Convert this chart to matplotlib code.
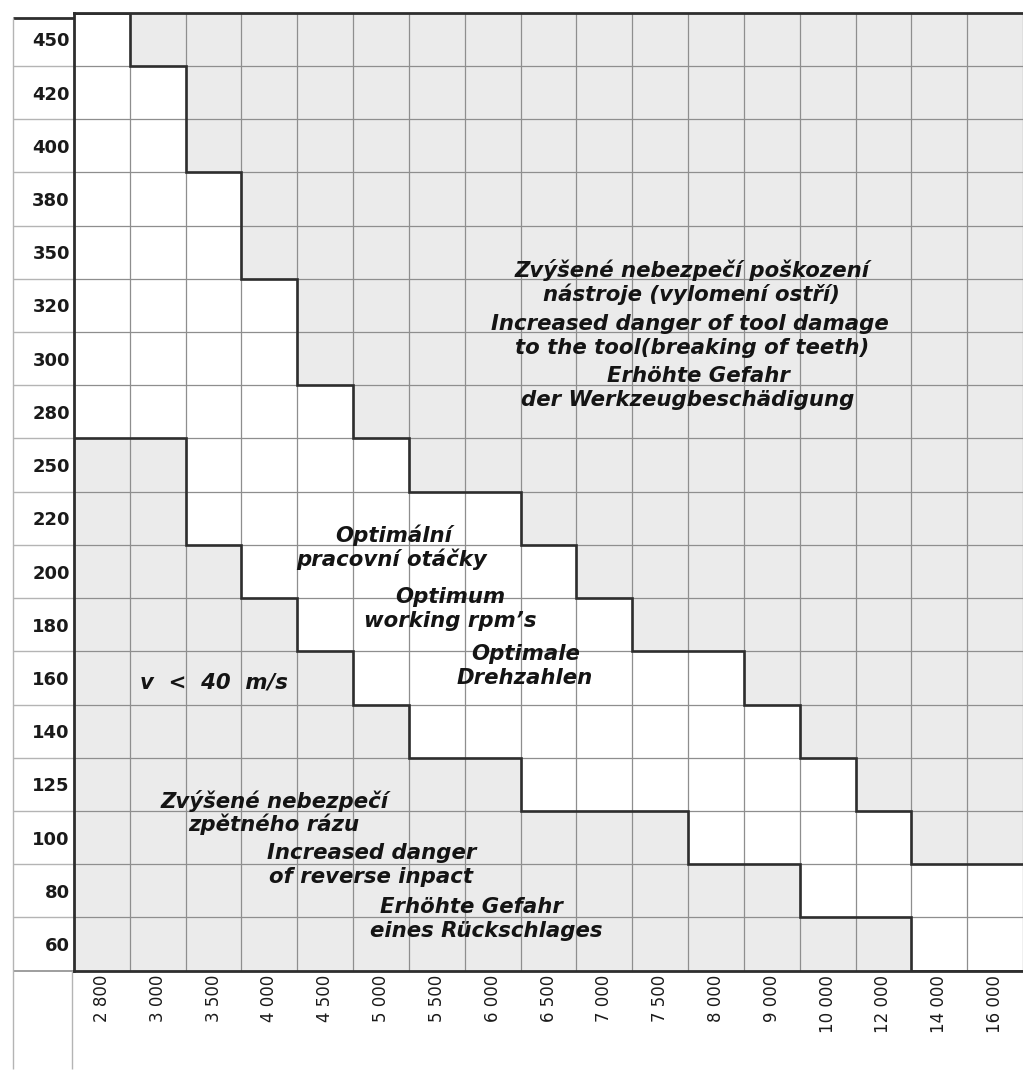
import numpy as np
import matplotlib
matplotlib.use("Agg")
import matplotlib.pyplot as plt

# ---------------- data ----------------
rpm_labels = ["2 800", "3 000", "3 500", "4 000", "4 500", "5 000", "5 500",
              "6 000", "6 500", "7 000", "7 500", "8 000", "9 000", "10 000",
              "12 000", "14 000", "16 000"]
# saw diameters, listed from bottom row to top row
diameter_labels = ["60", "80", "100", "125", "140", "160", "180", "200", "220",
                   "250", "280", "300", "320", "350", "380", "400", "420", "450"]
# lowest row index of the "tool damage" zone for each rpm column (18 = none)
tool_damage_from = [18, 17, 15, 13, 11, 10, 9, 9, 8, 7, 6, 6, 5, 4, 3, 2, 2]
# number of rows (from the bottom) in the "kickback" zone for each rpm column
kickback_rows = [10, 10, 8, 7, 6, 5, 4, 4, 3, 3, 3, 2, 2, 1, 1, 0, 0]

# ---------------- style ----------------
GREY = "#ebebeb"
DARK = "#2e2e2e"
GRID = "#8e8e8e"
LIGHT = "#b4b4b4"

W, H = 1023, 1070
GX0, GY0, GY1 = 74.0, 12.7, 970.7
COLW, ROWH = 56.3, 53.53

fig = plt.figure(figsize=(W / 100, H / 100), dpi=100)
fig.patch.set_facecolor("white")

ncol = len(rpm_labels)
nrow = len(diameter_labels)
xmax = (W - GX0) / COLW
ymax = (GY1 - GY0) / ROWH

ax = fig.add_axes([GX0 / W, 1 - GY1 / H, (W - GX0) / W, (GY1 - GY0) / H])
ax.set_xlim(0, xmax)
ax.set_ylim(0, ymax)
ax.set_facecolor("white")

cols = np.arange(ncol)
top_h = [nrow + 1 - s for s in tool_damage_from]
ax.bar(cols + 0.5, top_h, width=1.0, bottom=tool_damage_from, color=GREY,
       linewidth=0, align="center", zorder=0.5)
ax.bar(cols + 0.5, kickback_rows, width=1.0, bottom=0, color=GREY,
       linewidth=0, align="center", zorder=0.5)

# grid: boundaries on major ticks, labels on minor ticks
ax.set_xticks(np.arange(0, ncol + 1))
ax.set_xticklabels([])
ax.set_xticks(cols + 0.5, minor=True)
ax.set_xticklabels(rpm_labels, minor=True, rotation=90, va="top", ha="center",
                   fontsize=12, family="DejaVu Sans", color="#1a1a1a")
ax.set_yticks(np.arange(0, nrow + 1))
ax.set_yticklabels([])
ax.set_yticks(np.arange(nrow) + 0.5, minor=True)
ax.set_yticklabels(diameter_labels, minor=True, fontsize=13, fontweight="bold",
                   family="DejaVu Sans", color="#1a1a1a")
ax.tick_params(which="both", length=0)
ax.tick_params(axis="y", which="minor", pad=3)
ax.tick_params(axis="x", which="minor", pad=3)
ax.grid(which="major", color=GRID, linewidth=0.9)

# zone boundaries
edges = np.arange(ncol + 1)
ax.stairs(tool_damage_from, edges, baseline=None, color=DARK, linewidth=1.9, zorder=3)
ax.stairs(kickback_rows, edges, baseline=None, color=DARK, linewidth=1.9, zorder=3)

for side in ("top", "left", "bottom"):
    ax.spines[side].set_color(DARK)
    ax.spines[side].set_linewidth(2.0)
ax.spines["right"].set_visible(False)

# label column frame
xl = (12 - GX0) / COLW
x72 = (72 - GX0) / COLW
ybot = (GY1 - H) / ROWH
ax.hlines(np.arange(1, nrow), xl, 0, color=LIGHT, linewidth=1.0, clip_on=False)
ax.hlines([0], xl, 0, color=GRID, linewidth=1.2, clip_on=False)
ax.hlines([ymax], xl, 0, color=DARK, linewidth=2.0, clip_on=False)
ax.vlines([xl], ybot, ymax, color=LIGHT, linewidth=1.0, clip_on=False)
ax.vlines([x72], ybot, 0, color=LIGHT, linewidth=1.0, clip_on=False)


def px2data(px, py):
    return (px - GX0) / COLW, (GY1 - py) / ROWH


texts = [
    ("Zvýšené nebezpečí poškození", 697, 273),
    ("nástroje (vylomení ostří)", 697, 297),
    ("Increased danger of tool damage", 695, 326),
    ("to the tool(breaking of teeth)", 697, 350),
    ("Erhöhte Gefahr", 704, 379),
    ("der Werkzeugbeschädigung", 693, 403),
    ("Optimální", 396, 540),
    ("pracovní otáčky", 394, 564),
    ("Optimum", 454, 601),
    ("working rpm’s", 453, 625),
    ("Optimale", 530, 658),
    ("Drehzahlen", 529, 682),
    ("v  <  40  m/s", 215, 687),
    ("Zvýšené nebezpečí", 276, 807),
    ("zpětného rázu", 275, 830),
    ("Increased danger", 374, 858),
    ("of reverse inpact", 374, 882),
    ("Erhöhte Gefahr", 475, 913),
    ("eines Rückschlages", 490, 937),
]
for s, cx, by in texts:
    x, y = px2data(cx, by)
    ax.text(x, y, s, ha="center", va="baseline", fontsize=15.3,
            fontweight="bold", fontstyle="italic", family="DejaVu Sans",
            color="#141414", zorder=4)

fig.savefig("out.png", dpi=100, facecolor="white")
